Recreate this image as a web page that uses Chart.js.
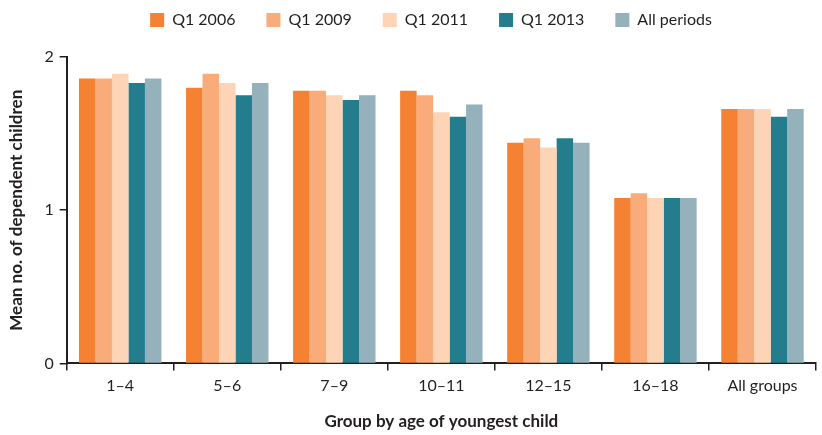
<!DOCTYPE html>
<html>
<head>
<meta charset="utf-8">
<script src="https://cdn.jsdelivr.net/npm/chart.js@4/dist/chart.umd.min.js"></script>
<style>
  html, body { margin: 0; padding: 0; background: #fff; }
  #wrap { width: 822px; height: 435px; position: relative; }
</style>
</head>
<body>
<div id="wrap"><canvas id="c"></canvas></div>
<script>
// Age groups of the youngest child
const categories = ['1–4', '5–6', '7–9', '10–11', '12–15', '16–18', 'All groups'];

// Mean number of dependent children per period
const q12006 = [1.86, 1.80, 1.78, 1.78, 1.44, 1.08, 1.66];
const q12009 = [1.86, 1.89, 1.78, 1.75, 1.47, 1.11, 1.66];
const q12011 = [1.89, 1.83, 1.75, 1.64, 1.41, 1.08, 1.66];
const q12013 = [1.83, 1.75, 1.72, 1.61, 1.47, 1.08, 1.61];
const allPeriods = [1.86, 1.83, 1.75, 1.69, 1.44, 1.08, 1.66];

const yTicks = [0, 1, 2];

const seriesNames = ['Q1 2006', 'Q1 2009', 'Q1 2011', 'Q1 2013', 'All periods'];
const seriesData = [q12006, q12009, q12011, q12013, allPeriods];
const seriesColors = ['#F58233', '#F9AC7A', '#FDD4B5', '#237D8D', '#94B1BC'];

const FONT = 'Lato, "Open Sans", sans-serif';
const INK = '#231F20';

// Reserve a fixed band for the legend, then lift it and centre it over the plot
const legendPlacement = {
  id: 'legendPlacement',
  beforeInit(chart) {
    const fit = chart.legend.fit;
    chart.legend.fit = function () {
      fit.call(this);
      this.height = 57;
    };
  },
  afterLayout(chart) {
    const lg = chart.legend;
    const dy = -19;
    const dx = 20;
    lg.top += dy; lg.bottom += dy;
    lg.left += dx; lg.right += dx;
  }
};

const chart = new Chart(document.getElementById('c'), {
  type: 'bar',
  data: {
    labels: categories,
    datasets: seriesNames.map((name, i) => ({
      label: name,
      data: seriesData[i],
      backgroundColor: seriesColors[i],
      borderWidth: 0,
      barPercentage: 1.0,
      categoryPercentage: 0.77
    }))
  },
  plugins: [legendPlacement],
  options: {
    responsive: true,
    maintainAspectRatio: false,
    animation: false,
    layout: { padding: { top: 0, right: 6, left: 6, bottom: 3 } },
    plugins: {
      tooltip: { enabled: false },
      legend: {
        position: 'top',
        labels: {
          boxWidth: 14,
          boxHeight: 14,
          padding: 31,
          color: INK,
          font: { family: FONT, size: 16 }
        }
      }
    },
    scales: {
      x: {
        offset: true,
        grid: {
          display: true,
          offset: true,
          drawOnChartArea: false,
          drawTicks: true,
          tickLength: 7,
          color: INK,
          lineWidth: 1.5
        },
        border: { display: true, color: INK, width: 2 },
        ticks: { color: INK, font: { family: FONT, size: 16 }, padding: 6 },
        title: {
          display: true,
          text: 'Group by age of youngest child',
          color: INK,
          font: { family: FONT, size: 17, weight: 'bold' },
          padding: { top: 10, bottom: 0 }
        }
      },
      y: {
        min: 0,
        max: 2,
        afterBuildTicks: (axis) => { axis.ticks = yTicks.map(v => ({ value: v })); },
        grid: {
          display: true,
          drawOnChartArea: false,
          drawTicks: true,
          tickLength: 7,
          color: INK,
          lineWidth: 1.5
        },
        border: { display: true, color: INK, width: 2 },
        ticks: { color: INK, font: { family: FONT, size: 16 }, padding: 6 },
        title: {
          display: true,
          text: 'Mean no. of dependent children',
          color: INK,
          font: { family: FONT, size: 17, weight: 'bold' },
          padding: { top: 0, bottom: 12 }
        }
      }
    }
  }
});
</script>
</body>
</html>
